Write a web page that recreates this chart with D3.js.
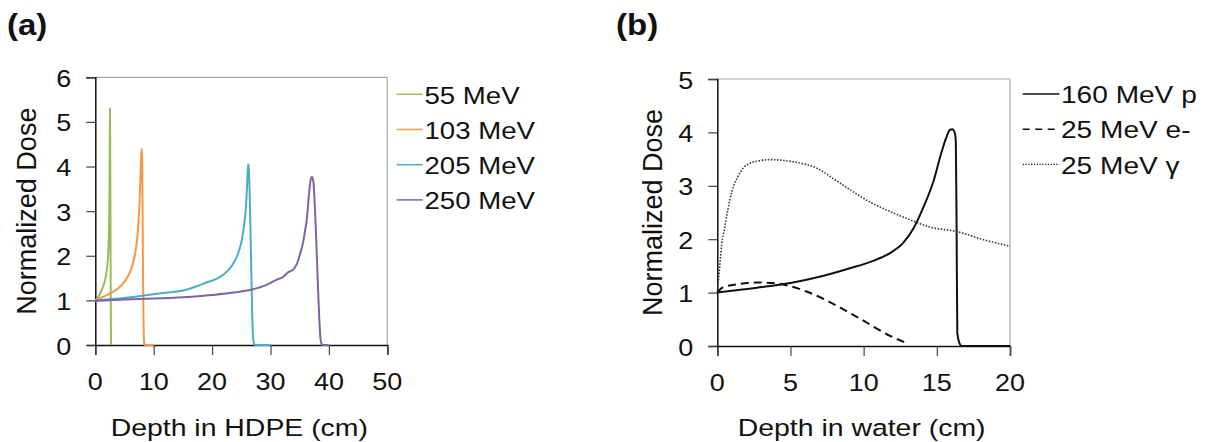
<!DOCTYPE html>
<html><head><meta charset="utf-8">
<script src="https://cdn.jsdelivr.net/npm/d3@7"></script>
<style>body{margin:0;background:#fff}svg{display:block}text{font-family:"Liberation Sans",Arial,Helvetica,sans-serif;fill:#111}</style>
</head><body><svg id="c" width="1210" height="442"></svg>
<script>
// ---- Panel (a) data: depth in HDPE (cm) vs normalized dose
const depth55  = [0, 0.4, 0.8, 1.2, 1.6, 1.9, 2.1, 2.25, 2.35, 2.42, 2.47, 2.51, 2.55, 2.6, 2.65, 2.7];
const dose55   = [1.0, 1.06, 1.15, 1.27, 1.42, 1.62, 1.85, 2.15, 2.6, 3.3, 4.3, 5.3, 4.6, 2.8, 0.9, 0];
const depth103 = [0, 1, 2, 3, 4, 5, 5.9, 6.5, 7.0, 7.35, 7.6, 7.8, 7.93, 8.02, 8.08, 8.15, 8.25, 8.35, 8.5, 10];
const dose103  = [1.0, 1.06, 1.12, 1.19, 1.28, 1.42, 1.62, 1.85, 2.2, 2.65, 3.3, 4.0, 4.4, 4.2, 3.3, 2.0, 0.6, 0.08, 0, 0];
const depth205 = [0, 3, 6, 9, 12, 15, 17, 19, 21, 22.5, 23.5, 24.3, 25, 25.5, 25.8, 26.0, 26.15, 26.3, 26.45, 26.6, 26.75, 26.9, 27.1, 27.4, 30];
const dose205  = [1.0, 1.03, 1.07, 1.12, 1.17, 1.22, 1.3, 1.4, 1.5, 1.64, 1.8, 2.0, 2.3, 2.7, 3.1, 3.6, 4.05, 3.95, 3.3, 2.4, 1.4, 0.5, 0.07, 0, 0];
const depth250 = [0, 5, 10, 15, 20, 24, 27, 29, 31, 32.2, 33, 33.9, 34.75, 35.2, 35.6, 35.9, 36.2, 36.6, 36.9, 37.1, 37.35, 37.6, 37.85, 38.1, 38.35, 38.6, 38.9, 40];
const dose250  = [0.99, 1.02, 1.04, 1.07, 1.12, 1.18, 1.25, 1.33, 1.46, 1.53, 1.63, 1.69, 1.9, 2.1, 2.31, 2.55, 2.8, 3.39, 3.72, 3.77, 3.65, 3.1, 2.3, 1.4, 0.6, 0.1, 0, 0];
const seriesA  = ["55 MeV", "103 MeV", "205 MeV", "250 MeV"];
const colorsA  = ["#9bbb59", "#f79646", "#4bacc6", "#8064a2"];
const xTicksA  = [0, 10, 20, 30, 40, 50];
const yTicksA  = [0, 1, 2, 3, 4, 5, 6];

// ---- Panel (b) data: depth in water (cm) vs normalized dose
const depthP = [0, 2.7, 5, 7.2, 9, 10.7, 11.8, 12.7, 13.4, 14.1, 14.8, 15.3, 15.67, 15.9, 16.06, 16.24, 16.3, 16.35, 16.4, 16.55, 16.7, 20];
const doseP  = [1.0, 1.09, 1.18, 1.31, 1.45, 1.6, 1.74, 1.93, 2.2, 2.61, 3.11, 3.61, 3.92, 4.05, 4.06, 3.98, 3.8, 2.23, 0.24, 0.05, 0, 0];
const depthE = [0, 0.4, 1.5, 2.7, 3.8, 5.0, 6.1, 7.2, 8.4, 9.5, 10.7, 11.8, 12.8];
const doseE  = [1.0, 1.1, 1.16, 1.19, 1.18, 1.12, 1.02, 0.89, 0.72, 0.55, 0.36, 0.19, 0.07];
const depthG = [0, 0.1, 0.2, 0.3, 0.5, 0.7, 1.0, 1.4, 1.8, 2.3, 2.9, 3.6, 4.3, 5.4, 6.8, 7.9, 9.1, 10.4, 11.8, 13.2, 14.5, 16.4, 18.2, 20];
const doseG  = [1.0, 1.3, 1.6, 1.9, 2.2, 2.52, 2.9, 3.17, 3.34, 3.43, 3.47, 3.49, 3.48, 3.44, 3.33, 3.14, 2.92, 2.7, 2.52, 2.36, 2.23, 2.14, 1.99, 1.87];
const seriesB = ["160 MeV p", "25 MeV e-", "25 MeV γ"];
const dashesB = [null, "8,5", "1.5,1.6"];
const xTicksB = [0, 5, 10, 15, 20];
const yTicksB = [0, 1, 2, 3, 4, 5];

const svg = d3.select("#c");

function label(x, y, str, o = {}) {
  const g = svg.append("g").attr("transform", `translate(${x},${y}) scale(${o.sx || 1},1)` + (o.rot ? ` rotate(${o.rot})` : ""));
  g.append("text").attr("text-anchor", o.anchor || "start")
    .attr("dominant-baseline", o.mid ? "central" : "alphabetic")
    .style("font-size", (o.size || 24) + "px")
    .style("font-weight", o.bold ? "bold" : "normal")
    .text(str);
  return g;
}

function panel(x, y, xt, yt, xTitle, yTitle, yTitleX) {
  const [x0, x1] = x.range(), [y0, y1] = y.range();
  svg.append("line").attr("x1", x0).attr("x2", x1).attr("y1", y1).attr("y2", y1).attr("stroke", "#a8a8a8").attr("stroke-width", 1.2);
  svg.append("line").attr("x1", x1).attr("x2", x1).attr("y1", y1).attr("y2", y0).attr("stroke", "#a8a8a8").attr("stroke-width", 1.2);
  const ax = svg.append("g").attr("transform", `translate(0,${y0})`)
    .call(d3.axisBottom(x).tickValues(xt).tickSize(10).tickFormat(""));
  const ay = svg.append("g").attr("transform", `translate(${x0},0)`)
    .call(d3.axisLeft(y).tickValues(yt).tickSize(9).tickFormat(""));
  [ax, ay].forEach(a => { a.select(".domain").attr("stroke", "#111").attr("stroke-width", 1.5); a.selectAll(".tick line").attr("stroke", "#444").attr("stroke-width", 1.2); });
  xt.forEach(v => label(x(v), y0 + 45, String(v), { anchor: "middle", sx: 1.1, size: 24.5 }));
  yt.forEach(v => label(x0 - 24, y(v) + 1, String(v), { anchor: "end", sx: 1.1, mid: true, size: 24.5 }));
  label((x0 + x1) / 2 - 2, 436, xTitle, { anchor: "middle", sx: 1.16, size: 24.5 });
  label(yTitleX, (y0 + y1) / 2, yTitle, { anchor: "middle", size: 27, rot: -90 });
}

// Panel (a)
const xA = d3.scaleLinear().domain([0, 50]).range([95.3, 387.3]);
const yA = d3.scaleLinear().domain([0, 6]).range([345, 77.3]);
panel(xA, yA, xTicksA, yTicksA, "Depth in HDPE (cm)", "Normalized Dose", 36);
const lineA = d3.line().x(d => xA(d[0])).y(d => yA(d[1])).curve(d3.curveMonotoneX);
const dataA = [[depth55, dose55], [depth103, dose103], [depth205, dose205], [depth250, dose250]];
dataA.forEach(([xs, ys], i) => {
  svg.append("path").datum(d3.zip(xs, ys)).attr("d", lineA).attr("fill", "none")
    .attr("stroke", colorsA[i]).attr("stroke-width", 2).attr("stroke-linejoin", "round");
});
seriesA.forEach((s, i) => {
  const yy = 94.3 + i * 35.2;
  svg.append("line").attr("x1", 396.7).attr("x2", 422.7).attr("y1", yy).attr("y2", yy).attr("stroke", colorsA[i]).attr("stroke-width", 1.5);
  label(424.5, yy + 1, s, { sx: 1.15, mid: true });
});
label(7, 35, "(a)", { bold: true, size: 30, sx: 1.1 });

// Panel (b)
const xB = d3.scaleLinear().domain([0, 20]).range([717.3, 1010]);
const yB = d3.scaleLinear().domain([0, 5]).range([346, 79]);
panel(xB, yB, xTicksB, yTicksB, "Depth in water (cm)", "Normalized Dose", 662);
const lineB = d3.line().x(d => xB(d[0])).y(d => yB(d[1])).curve(d3.curveMonotoneX);
const dataB = [[depthP, doseP], [depthE, doseE], [depthG, doseG]];
dataB.forEach(([xs, ys], i) => {
  const p = svg.append("path").datum(d3.zip(xs, ys)).attr("d", lineB).attr("fill", "none")
    .attr("stroke", i === 2 ? "#333" : "#111").attr("stroke-width", i === 2 ? 1.6 : 2);
  if (dashesB[i]) p.attr("stroke-dasharray", dashesB[i]);
});
seriesB.forEach((s, i) => {
  const yy = 94 + i * 35.2;
  const l = svg.append("line").attr("x1", 1022.7).attr("x2", 1059.3).attr("y1", yy).attr("y2", yy).attr("stroke", "#111").attr("stroke-width", i === 2 ? 1.2 : 1.5);
  if (i === 1) l.attr("stroke-dasharray", "7,5.5");
  if (i === 2) l.attr("stroke-dasharray", "1.2,1.6");
  label(1061, yy + 1, s, { sx: 1.17, mid: true });
});
label(616, 35, "(b)", { bold: true, size: 30, sx: 1.1 });
</script></body></html>
